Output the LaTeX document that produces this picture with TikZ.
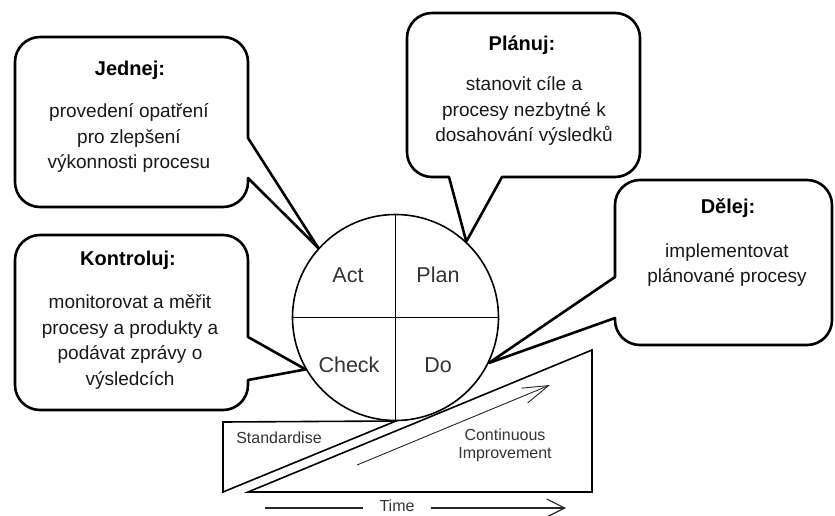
\documentclass[tikz,border=0pt]{standalone}
\usepackage{fontspec}
\setmainfont{Liberation Sans}
\usetikzlibrary{arrows.meta}

\begin{document}
\begin{tikzpicture}[x=1pt,y=-1pt,
  callout/.style={draw=black, line width=2.6pt, fill=white, line join=round},
  bubbletitle/.style={font=\fontsize{20}{24}\selectfont\bfseries, text=black, inner sep=0pt},
  bubbletext/.style={font=\fontsize{19}{25.5}\selectfont, align=center, text=black!90, inner sep=0pt},
  quadlabel/.style={font=\fontsize{21.5}{25}\selectfont, text=black!80, inner sep=0pt},
  slopelabel/.style={font=\fontsize{16}{18}\selectfont, text=black!80, align=center, inner sep=0pt},
  wedgeline/.style={draw=black, line width=1.6pt, line join=miter},
  guide/.style={draw=black!85, line width=0.9pt}
]
\useasboundingbox (0,0) rectangle (835,516);

% slope (continuous improvement) and wedge (standardise)
\coordinate (ciLow) at (248,492);
\coordinate (ciTop) at (592,350);
\coordinate (ciFoot) at (592,492);
\draw[wedgeline] (ciLow) -- (ciTop) -- (ciFoot) -- cycle;

\coordinate (stTopL) at (223,422);
\coordinate (stTopR) at (396,421);
\coordinate (stLow) at (223,492);
\draw[wedgeline] (stTopL) -- (stTopR) -- (stLow) -- cycle;

\node[slopelabel] (std) at (279,438) {Standardise};
\node[slopelabel] (cimp) at (505,445) {Continuous\\Improvement};

\coordinate (ciArrowA) at (357,465);
\coordinate (ciArrowB) at (550,385);
\draw[guide, -{Straight Barb[length=26pt,width=16pt]}] (ciArrowA) -- (ciArrowB);

% time axis
\node[slopelabel, inner xsep=16pt] (time) at (397,506) {Time};
\coordinate (timeL) at (265,508);
\coordinate (timeR) at (566,508);
\draw[guide, line width=1.2pt] (timeL) -- (time.west |- timeL);
\draw[guide, line width=1.2pt, -{Straight Barb[length=18pt,width=18pt]}] (time.east |- timeR) -- (timeR);

% PDCA wheel
\node[circle, draw=black, line width=1.6pt, minimum size=206pt, inner sep=0pt, fill=white] (wheel) at (395.5,317.5) {};
\draw[line width=1.6pt] (wheel.north) -- (wheel.south);
\draw[line width=1.6pt] (wheel.west) -- (wheel.east);
\node[quadlabel] (act) at (348,275) {Act};
\node[quadlabel] (plan) at (438,275) {Plan};
\node[quadlabel] (check) at (349,365) {Check};
\node[quadlabel] (do) at (438,365) {Do};

% callout: Jednej
\draw[callout] (40,37) -- (223,37) arc[start angle=90,end angle=0,radius=25pt]
  -- (248,138) -- (wheel.138) -- (248,178) -- (248,182)
  arc[start angle=0,end angle=-90,radius=25pt] -- (40,207)
  arc[start angle=-90,end angle=-180,radius=25pt] -- (15,62)
  arc[start angle=180,end angle=90,radius=25pt] -- cycle;
\node[bubbletitle] (jTitle) at (130,70) {Jednej:};
\node[bubbletext] (jBody) at (129,138) {provedení opatření\\pro zlepšení\\výkonnosti procesu};

% callout: Kontroluj
\draw[callout] (40,235) -- (223,235) arc[start angle=90,end angle=0,radius=25pt]
  -- (248,337) -- (wheel.210) -- (248,380) -- (248,385)
  arc[start angle=0,end angle=-90,radius=25pt] -- (40,410)
  arc[start angle=-90,end angle=-180,radius=25pt] -- (15,260)
  arc[start angle=180,end angle=90,radius=25pt] -- cycle;
\node[bubbletitle] (kTitle) at (128,260) {Kontroluj:};
\node[bubbletext] (kBody) at (130,342) {monitorovat a měřit\\procesy a produkty a\\podávat zprávy o\\výsledcích};

% callout: Plánuj
\draw[callout] (432,13) -- (615,13) arc[start angle=90,end angle=0,radius=25pt]
  -- (640,152) arc[start angle=0,end angle=-90,radius=25pt]
  -- (502,177) -- (wheel.47) -- (449,177) -- (432,177)
  arc[start angle=-90,end angle=-180,radius=25pt] -- (407,38)
  arc[start angle=180,end angle=90,radius=25pt] -- cycle;
\node[bubbletitle] (pTitle) at (522,45) {Plánuj:};
\node[bubbletext] (pBody) at (524,111) {stanovit cíle a\\procesy nezbytné k\\dosahování výsledků};

% callout: Dělej
\draw[callout] (640,180) -- (807,180) arc[start angle=90,end angle=0,radius=25pt]
  -- (832,320) arc[start angle=0,end angle=-90,radius=25pt]
  -- (640,345) arc[start angle=-90,end angle=-180,radius=25pt]
  -- (615,318) -- (wheel.334) -- (615,277) -- (615,205)
  arc[start angle=180,end angle=90,radius=25pt] -- cycle;
\node[bubbletitle] (dTitle) at (728,208) {Dělej:};
\node[bubbletext] (dBody) at (727,265) {implementovat\\plánované procesy};

\end{tikzpicture}
\end{document}
